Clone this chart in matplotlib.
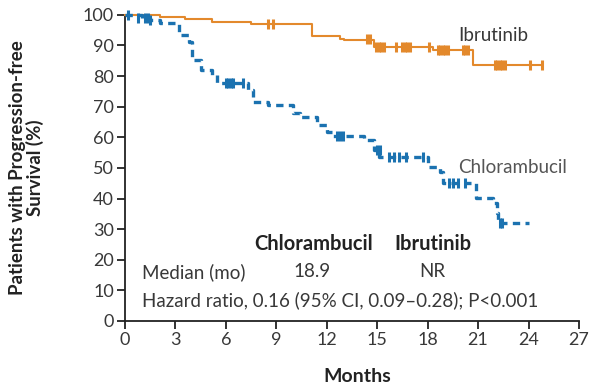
import matplotlib
matplotlib.use("Agg")
import matplotlib.pyplot as plt

plt.rcParams['font.family'] = ['Lato', 'DejaVu Sans']

# Kaplan-Meier step data (months, % progression-free)
ibr_times = [0, 2.1, 3.6, 5.2, 7.5, 11.1, 12.8, 13.0, 14.8, 18.3, 20.7, 24.8]
ibr_surv = [100, 99.3, 98.7, 97.8, 97.0, 93.2, 92.2, 91.8, 89.6, 88.5, 83.7, 83.7]
ibr_cens_t = [8.5, 8.8, 14.4, 14.6, 14.95, 15.1, 15.25, 15.4, 16.1, 16.5, 16.65, 16.8, 16.95,
              18.1, 18.6, 18.75, 18.9, 19.05, 19.2, 20.1, 20.25, 20.4, 22.0, 22.15, 22.3, 22.45, 22.6,
              24.1, 24.8]
ibr_cens_s = [97.0, 97.0, 92.0, 92.0, 89.6, 89.6, 89.6, 89.6, 89.6, 89.6, 89.6, 89.6, 89.6,
              89.6, 88.5, 88.5, 88.5, 88.5, 88.5, 88.5, 88.5, 88.5, 83.7, 83.7, 83.7, 83.7, 83.7,
              83.7, 83.7]

chl_times = [0, 1.0, 1.5, 2.1, 3.2, 3.8, 4.0, 4.5, 5.2, 5.5, 7.3, 7.6, 8.5, 10.0, 10.4, 11.4,
             12.0, 12.4, 14.2, 14.8, 15.1, 18.0, 18.75, 18.9, 20.9, 21.9, 22.1, 22.2, 24.0]
chl_surv = [100, 99.0, 98.4, 97.4, 93.5, 91.2, 85.3, 82.0, 80.4, 77.8, 75.5, 71.6, 70.6, 68.0,
            66.7, 64.0, 61.8, 60.5, 59.2, 55.9, 53.6, 50.3, 48.7, 45.1, 40.2, 38.6, 35.3, 32.0, 32.0]
chl_cens_t = [0.2, 0.8, 1.2, 1.35, 1.5, 6.0, 6.15, 6.3, 6.45, 7.0, 12.6, 12.8, 12.95,
              15.0, 15.15, 15.7, 16.0, 16.3, 16.7, 17.7, 19.3, 19.5, 19.8, 20.2, 22.3, 22.4]
chl_cens_s = [100, 99.0, 99.0, 99.0, 98.4, 77.8, 77.8, 77.8, 77.8, 77.8, 60.5, 60.5, 60.5,
              55.9, 55.9, 53.6, 53.6, 53.6, 53.6, 53.6, 45.1, 45.1, 45.1, 45.1, 32.0, 32.0]

x_ticks = [0, 3, 6, 9, 12, 15, 18, 21, 24, 27]
y_ticks = [0, 10, 20, 30, 40, 50, 60, 70, 80, 90, 100]

orange = '#E3892C'
blue = '#1B72B0'
ink = '#222222'
grey = '#383838'

fig = plt.figure(figsize=(5.92, 3.90), dpi=100)
ax = fig.add_axes([0.211, 0.177, 0.767, 0.785])

ax.step(ibr_times, ibr_surv, where='post', color=orange, lw=1.5, clip_on=False, zorder=3)
ax.plot(ibr_cens_t, ibr_cens_s, ls='none', marker='|', ms=7, mew=2.2, color=orange,
        clip_on=False, zorder=3)

ax.step(chl_times, chl_surv, where='post', color=blue, lw=2.4, ls=(0, (2.2, 1.6)),
        clip_on=False, zorder=4)
ax.plot(chl_cens_t, chl_cens_s, ls='none', marker='|', ms=7, mew=2.2, color=blue,
        clip_on=False, zorder=4)

ax.set_xlim(0, 27)
ax.set_ylim(0, 100)
ax.set_xticks(x_ticks)
ax.set_yticks(y_ticks)
ax.tick_params(direction='out', length=6, width=1.3, labelsize=13, colors=ink, pad=2)
for lab in ax.get_xticklabels() + ax.get_yticklabels():
    lab.set_color(grey)
for s in ('top', 'right'):
    ax.spines[s].set_visible(False)
for s in ('left', 'bottom'):
    ax.spines[s].set_linewidth(1.3)
    ax.spines[s].set_color(ink)

ax.set_xlabel('Months', fontsize=14, fontweight='bold', color=ink)
ax.xaxis.set_label_coords(0.511, -0.152)
ax.set_ylabel('Patients with Progression-free\nSurvival (%)', fontsize=13.5,
              fontweight='bold', color=ink, linespacing=1.0)
ax.yaxis.set_label_coords(-0.178, 0.5)

ax.text(19.8, 93.4, 'Ibrutinib', fontsize=13.5, color=grey, va='center', ha='left')
ax.text(19.8, 50.0, 'Chlorambucil', fontsize=13.5, color='#555555', va='center', ha='left')

ax.text(11.2, 25.0, 'Chlorambucil', fontsize=14.5, fontweight='bold', ha='center', va='center',
        color=ink)
ax.text(18.3, 25.0, 'Ibrutinib', fontsize=14.5, fontweight='bold', ha='center', va='center',
        color=ink)
ax.text(1.0, 16.0, 'Median (mo)', fontsize=13.5, ha='left', va='center', color=grey)
ax.text(11.1, 16.0, '18.9', fontsize=13.5, ha='center', va='center', color=grey)
ax.text(18.3, 16.0, 'NR', fontsize=13.5, ha='center', va='center', color=grey)
ax.text(1.0, 6.8, 'Hazard ratio, 0.16 (95% CI, 0.09\u20130.28); P<0.001', fontsize=13.5,
        ha='left', va='center', color=grey)

fig.savefig('out.png', dpi=100, facecolor='white')
